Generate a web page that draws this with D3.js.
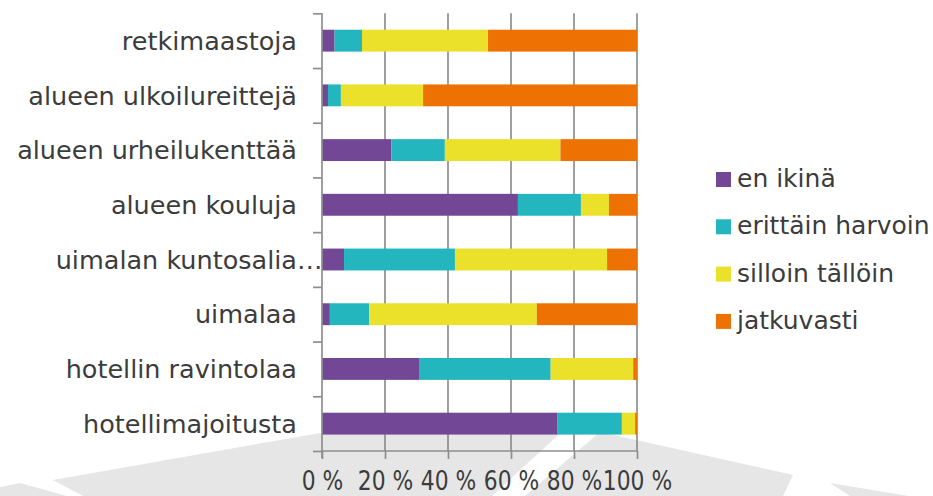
<!DOCTYPE html>
<html>
<head>
<meta charset="utf-8">
<script src="https://cdn.jsdelivr.net/npm/d3@7"></script>
<style>
  html, body { margin: 0; padding: 0; background: #ffffff; }
  svg { display: block; }
  text { font-family: "DejaVu Sans", sans-serif; fill: #3c3c3c; }
</style>
</head>
<body>
<svg id="chart" width="933" height="496"></svg>
<script>
// Categories, top to bottom
const categories = [
  "retkimaastoja",
  "alueen ulkoilureittejä",
  "alueen urheilukenttää",
  "alueen kouluja",
  "uimalan kuntosalia…",
  "uimalaa",
  "hotellin ravintolaa",
  "hotellimajoitusta"
];
const seriesNames = ["en ikinä", "erittäin harvoin", "silloin tällöin", "jatkuvasti"];
const enIkina        = [4.0, 1.9, 22.0, 62.2, 7.0, 2.5, 30.8, 74.8];
const erittainHarvoin = [8.7, 4.1, 17.0, 20.0, 35.2, 12.5, 41.8, 20.4];
const silloinTalloin = [40.0, 26.1, 36.7, 8.9, 48.3, 53.2, 26.2, 4.2];
const jatkuvasti     = [47.3, 67.9, 24.3, 8.9, 9.5, 31.8, 1.2, 0.6];
const tickValuesX = [0, 20, 40, 60, 80, 100];
const tickLabelsX = ["0 %", "20 %", "40 %", "60 %", "80 %", "100 %"];
const colors = ["#724896", "#23b6be", "#ebe02a", "#ee7203"];

const seriesValues = [enIkina, erittainHarvoin, silloinTalloin, jatkuvasti];
const rows = categories.map((c, i) => {
  const r = { cat: c };
  seriesNames.forEach((s, j) => r[s] = seriesValues[j][i]);
  return r;
});

const svg = d3.select("#chart");

// faint background watermark shapes
const wm = [
  [[0,487],[20,483],[67,496],[0,496]],
  [[53,480],[320,433],[566,428],[492,496],[83,496]],
  [[600,432],[793,475],[783,496],[525,496]],
  [[830,483],[933,500],[933,496],[850,496]]
];
svg.append("g").selectAll("path").data(wm).join("path")
  .attr("d", d => d3.line()(d) + "Z")
  .attr("fill", "#e6e6e6");

const pLeft = 322, pRight = 637, pTop = 13.3, pBottom = 451;
const x = d3.scaleLinear().domain([0, 100]).range([pLeft, pRight]);
const y = d3.scaleBand().domain(categories).range([pTop, pBottom]).paddingInner(0.6).paddingOuter(0.3);
const yb = d3.scaleLinear().domain([0, categories.length]).range([pTop, pBottom]);

// vertical gridlines
svg.append("g").selectAll("line").data(tickValuesX.slice(1)).join("line")
  .attr("x1", d => x(d)).attr("x2", d => x(d))
  .attr("y1", pTop).attr("y2", pBottom)
  .attr("stroke", "#8e8e8e").attr("stroke-width", 1.7);

// stacked bars
const stack = d3.stack().keys(seriesNames)(rows);
svg.append("g").selectAll("g").data(stack).join("g")
  .attr("fill", (d, i) => colors[i])
  .selectAll("rect").data(d => d).join("rect")
  .attr("x", d => x(d[0]))
  .attr("width", d => x(d[1]) - x(d[0]))
  .attr("y", d => y(d.data.cat))
  .attr("height", y.bandwidth());

// y axis (ticks at category boundaries)
const yAxis = svg.append("g").attr("transform", `translate(${pLeft},0)`)
  .call(d3.axisLeft(yb).tickValues(d3.range(0, categories.length + 1)).tickSize(9).tickFormat(""));
yAxis.select(".domain").remove();
yAxis.selectAll("line").attr("stroke", "#8e8e8e").attr("stroke-width", 1.7);
svg.append("line").attr("x1", pLeft).attr("x2", pLeft).attr("y1", pTop).attr("y2", pBottom + 7)
  .attr("stroke", "#8e8e8e").attr("stroke-width", 1.7);

// category labels (ellipsis overflows to the right, as in the original)
const labelG = svg.append("g");
categories.forEach(c => {
  const cy = y(c) + y.bandwidth() / 2;
  const trunc = c.endsWith("…");
  const base = trunc ? c.slice(0, -1) : c;
  labelG.append("text")
    .attr("x", 297).attr("y", cy).attr("dy", "0.36em")
    .attr("text-anchor", "end")
    .style("font-size", "25.5px")
    .text(base);
  if (trunc) {
    labelG.append("text")
      .attr("x", 297).attr("y", cy).attr("dy", "0.36em")
      .attr("text-anchor", "start")
      .style("font-size", "25.5px")
      .text("…");
  }
});

// x axis
const xAxis = svg.append("g").attr("transform", `translate(0,${pBottom})`)
  .call(d3.axisBottom(x).tickValues(tickValuesX).tickSize(8).tickFormat((d, i) => tickLabelsX[i]));
xAxis.select(".domain").attr("stroke", "#8e8e8e").attr("stroke-width", 1.7)
  .attr("d", `M${pLeft},0H${pRight}`);
xAxis.selectAll("line").attr("stroke", "#8e8e8e").attr("stroke-width", 1.7);
xAxis.selectAll("text")
  .attr("y", 39)
  .attr("dy", 0)
  .attr("transform", "scale(0.84,1)")
  .style("font-size", "26px")
  .style("font-family", "DejaVu Sans, sans-serif")
  .attr("fill", "#3c3c3c");

// legend
const lg = svg.append("g").attr("transform", "translate(716,172)");
const item = lg.selectAll("g").data(seriesNames).join("g")
  .attr("transform", (d, i) => `translate(0,${i * 47.3})`);
item.append("rect").attr("width", 15).attr("height", 15).attr("fill", (d, i) => colors[i]);
item.append("text").attr("x", 21).attr("y", 15).style("font-size", "25px").text(d => d);
</script>
</body>
</html>
